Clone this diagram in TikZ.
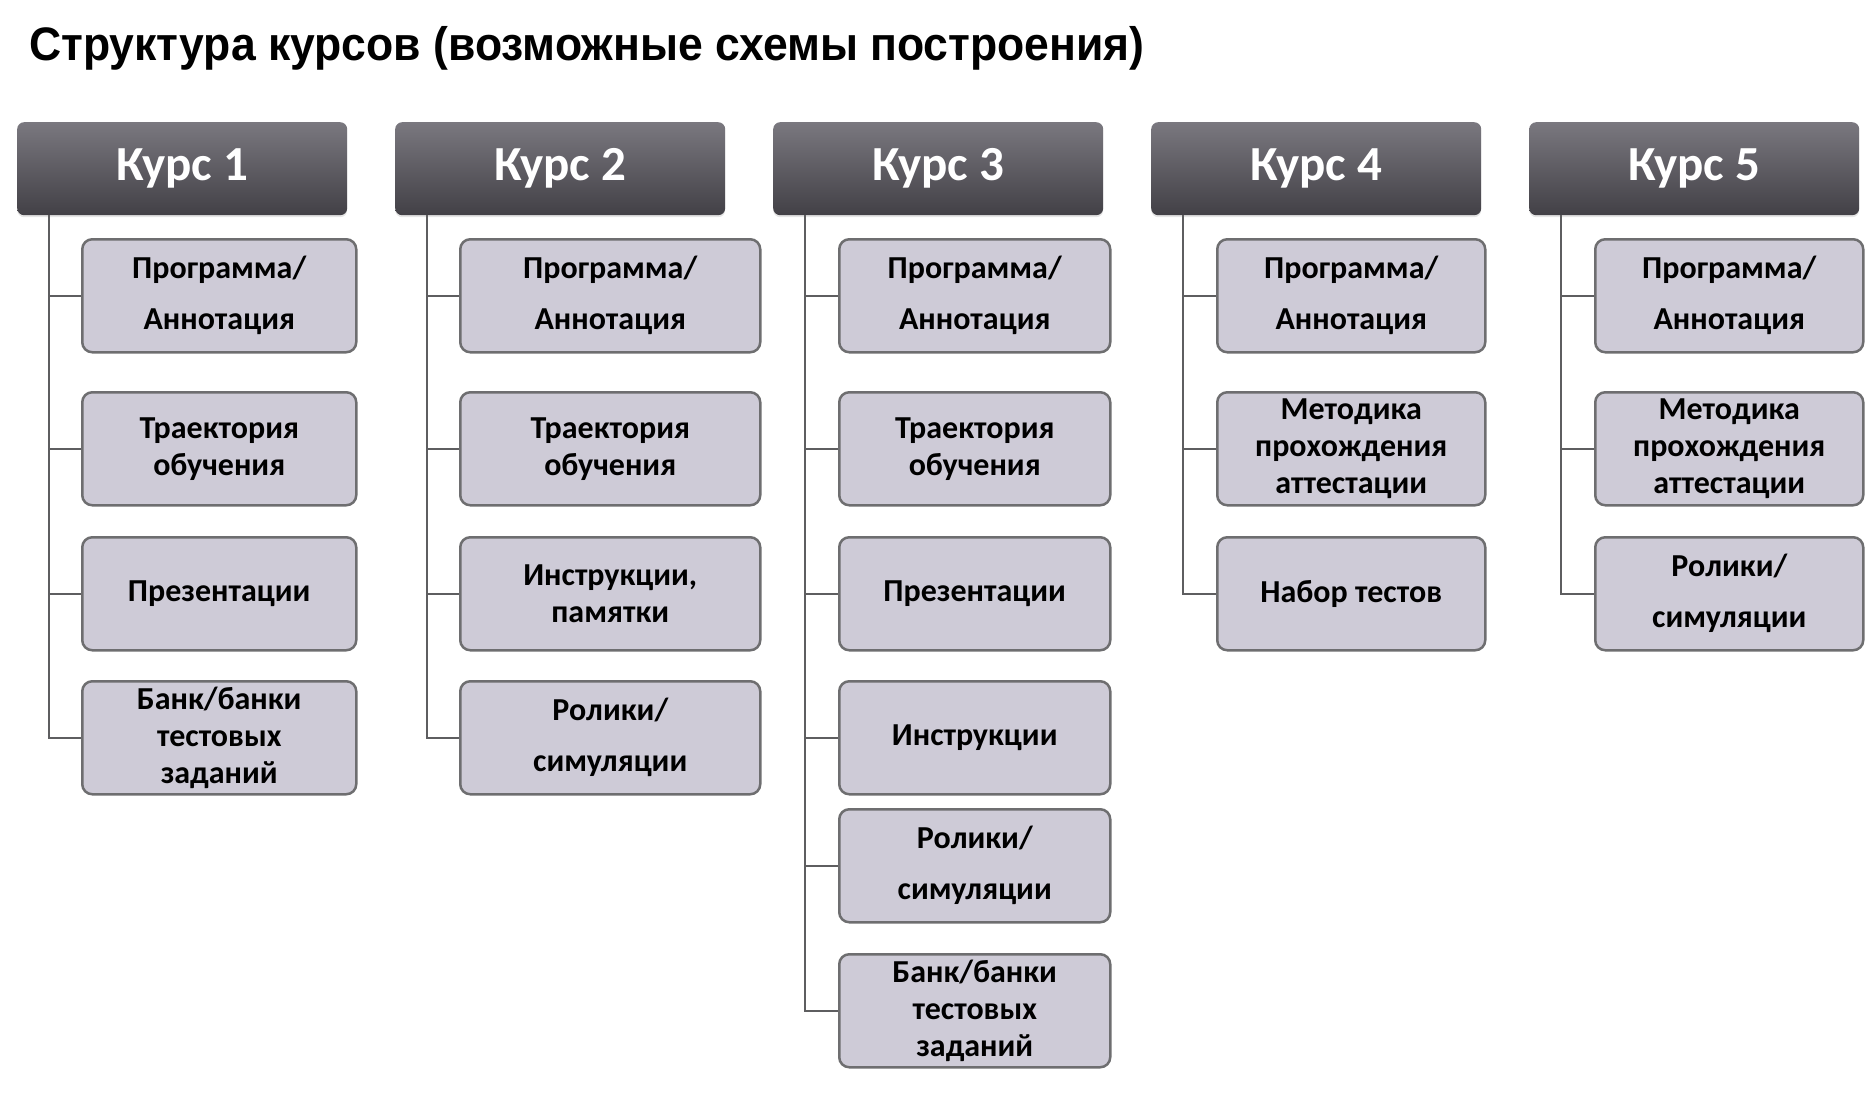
\documentclass[tikz,border=0pt]{standalone}
\usepackage{fontspec}
\usepackage{graphicx}
\setmainfont{Carlito}
\newfontfamily\titlefont{Liberation Sans}
\usetikzlibrary{positioning,shadows}

\definecolor{headtop}{HTML}{7A787F}
\definecolor{headmid}{HTML}{58565C}
\definecolor{headbot}{HTML}{424046}
\definecolor{itemfill}{HTML}{CECBD7}
\definecolor{itemedge}{HTML}{6E6E70}
\definecolor{linkgray}{HTML}{5E5E60}

\begin{document}
\begin{tikzpicture}[x=1pt, y=-1pt,
  % Node Styles
  kurs/.style={rectangle, rounded corners=7pt, top color=headtop, middle color=headmid, bottom color=headbot, draw=none, minimum width=330pt, minimum height=93pt, anchor=north west, inner sep=0pt, text=white, font=\fontsize{49}{58}\selectfont\bfseries, drop shadow={shadow xshift=0pt, shadow yshift=-2pt, fill=black!20, opacity=0.5}},
  item/.style={rectangle, rounded corners=10pt, draw=itemedge, line width=2.5pt, fill=itemfill, minimum width=#1, minimum height=113pt, anchor=north west, inner sep=2pt, align=center, font=\fontsize{32}{37}\selectfont\bfseries},
  item/.default=270pt,
  loose/.style={font=\fontsize{32}{51}\selectfont\bfseries},
  % Line Styles
  link/.style={draw=linkgray, line width=2.5pt},
]
\useasboundingbox (0,0) rectangle (1875,1117);

% Title
\node[anchor=base west, inner sep=0pt, font=\titlefont\fontsize{47}{56}\selectfont\bfseries] (title) at (29,60) {\scalebox{0.947}[1]{Структура курсов (возможные схемы построения)}};

% Course headers
\node[kurs] (k1) at (17,122) {Курс 1};
\node[kurs] (k2) at (395,122) {Курс 2};
\node[kurs] (k3) at (773,122) {Курс 3};
\node[kurs] (k4) at (1151,122) {Курс 4};
\node[kurs] (k5) at (1529,122) {Курс 5};

% Course 1
\node[item=274pt, loose] (k1a) at (81,238) {Программа/\\Аннотация};
\node[item=274pt] (k1b) at (81,391) {Траектория\\обучения};
\node[item=274pt] (k1c) at (81,536) {Презентации};
\node[item=274pt] (k1d) at (81,680) {Банк/банки\\тестовых\\заданий};

% Course 2
\node[item=300pt, loose] (k2a) at (459,238) {Программа/\\Аннотация};
\node[item=300pt] (k2b) at (459,391) {Траектория\\обучения};
\node[item=300pt] (k2c) at (459,536) {Инструкции,\\памятки};
\node[item=300pt, loose] (k2d) at (459,680) {Ролики/\\симуляции};

% Course 3
\node[item=271pt, loose] (k3a) at (838,238) {Программа/\\Аннотация};
\node[item=271pt] (k3b) at (838,391) {Траектория\\обучения};
\node[item=271pt] (k3c) at (838,536) {Презентации};
\node[item=271pt] (k3d) at (838,680) {Инструкции};
\node[item=271pt, loose] (k3e) at (838,808) {Ролики/\\симуляции};
\node[item=271pt] (k3f) at (838,953) {Банк/банки\\тестовых\\заданий};

% Course 4
\node[item=268pt, loose] (k4a) at (1216,238) {Программа/\\Аннотация};
\node[item=268pt] (k4b) at (1216,391) {Методика\\прохождения\\аттестации};
\node[item=268pt] (k4c) at (1216,536) {Набор тестов};

% Course 5
\node[item=268pt, loose] (k5a) at (1594,238) {Программа/\\Аннотация};
\node[item=268pt] (k5b) at (1594,391) {Методика\\прохождения\\аттестации};
\node[item=268pt, loose] (k5c) at (1594,536) {Ролики/\\симуляции};

% Connectors
\draw[link] ([xshift=32pt]k1.south west) |- (k1a.west);
\draw[link] ([xshift=32pt]k1.south west) |- (k1b.west);
\draw[link] ([xshift=32pt]k1.south west) |- (k1c.west);
\draw[link] ([xshift=32pt]k1.south west) |- (k1d.west);

\draw[link] ([xshift=32pt]k2.south west) |- (k2a.west);
\draw[link] ([xshift=32pt]k2.south west) |- (k2b.west);
\draw[link] ([xshift=32pt]k2.south west) |- (k2c.west);
\draw[link] ([xshift=32pt]k2.south west) |- (k2d.west);

\draw[link] ([xshift=32pt]k3.south west) |- (k3a.west);
\draw[link] ([xshift=32pt]k3.south west) |- (k3b.west);
\draw[link] ([xshift=32pt]k3.south west) |- (k3c.west);
\draw[link] ([xshift=32pt]k3.south west) |- (k3d.west);
\draw[link] ([xshift=32pt]k3.south west) |- (k3e.west);
\draw[link] ([xshift=32pt]k3.south west) |- (k3f.west);

\draw[link] ([xshift=32pt]k4.south west) |- (k4a.west);
\draw[link] ([xshift=32pt]k4.south west) |- (k4b.west);
\draw[link] ([xshift=32pt]k4.south west) |- (k4c.west);

\draw[link] ([xshift=32pt]k5.south west) |- (k5a.west);
\draw[link] ([xshift=32pt]k5.south west) |- (k5b.west);
\draw[link] ([xshift=32pt]k5.south west) |- (k5c.west);

\end{tikzpicture}
\end{document}
